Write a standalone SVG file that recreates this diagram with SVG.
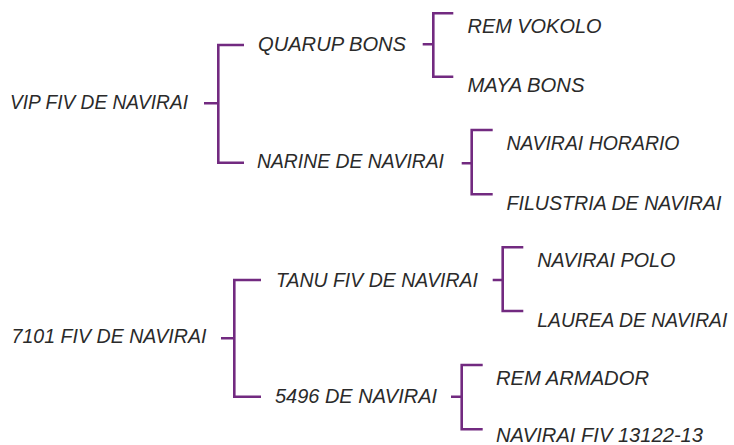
<svg xmlns="http://www.w3.org/2000/svg" width="734" height="445" viewBox="0 0 734 445">
<style>
text{font-family:"Liberation Sans",Arial,sans-serif;font-style:italic;font-size:20px;fill:#2a2a2a;}
.c path{fill:none;stroke:#722a80;stroke-width:2.6;}
</style>
<rect width="734" height="445" fill="#ffffff"/>
<g class="c" id="connectors">
<path d="M204,103.3H218.3M244,45H218.3V162.7H244"/>
<path d="M422.7,44.3H433.3M453.3,13.3H433.3V76.7H453.3"/>
<path d="M461.7,163.3H471.7M492.7,130H471.7V194.3H492.7"/>
<path d="M221,338.3H234.3M261,280H234.3V396.7H261"/>
<path d="M492.7,280H502.7M523.3,247.3H502.7V311H523.3"/>
<path d="M451,396.7H461.7M482.7,365H461.7V429.3H482.7"/>
</g>
<g id="n1"><text x="10" y="109" textLength="178" lengthAdjust="spacingAndGlyphs">VIP FIV DE NAVIRAI</text></g>
<g id="n2"><text x="258" y="51" textLength="148" lengthAdjust="spacingAndGlyphs">QUARUP BONS</text></g>
<g id="n3"><text x="257" y="168" textLength="187" lengthAdjust="spacingAndGlyphs">NARINE DE NAVIRAI</text></g>
<g id="n4"><text x="467.5" y="32.5" textLength="134" lengthAdjust="spacingAndGlyphs">REM VOKOLO</text></g>
<g id="n5"><text x="467.5" y="91.7" textLength="117" lengthAdjust="spacingAndGlyphs">MAYA BONS</text></g>
<g id="n6"><text x="506.5" y="150" textLength="173" lengthAdjust="spacingAndGlyphs">NAVIRAI HORARIO</text></g>
<g id="n7"><text x="506.5" y="210" textLength="215" lengthAdjust="spacingAndGlyphs">FILUSTRIA DE NAVIRAI</text></g>
<g id="n8"><text x="11.5" y="343" textLength="195" lengthAdjust="spacingAndGlyphs">7101 FIV DE NAVIRAI</text></g>
<g id="n9"><text x="276" y="286.7" textLength="202" lengthAdjust="spacingAndGlyphs">TANU FIV DE NAVIRAI</text></g>
<g id="n10"><text x="275" y="402.7" textLength="162" lengthAdjust="spacingAndGlyphs">5496 DE NAVIRAI</text></g>
<g id="n11"><text x="537.3" y="266.7" textLength="138" lengthAdjust="spacingAndGlyphs">NAVIRAI POLO</text></g>
<g id="n12"><text x="537.3" y="326.7" textLength="190" lengthAdjust="spacingAndGlyphs">LAUREA DE NAVIRAI</text></g>
<g id="n13"><text x="496" y="385" textLength="153" lengthAdjust="spacingAndGlyphs">REM ARMADOR</text></g>
<g id="n14"><text x="496" y="442" textLength="207" lengthAdjust="spacingAndGlyphs">NAVIRAI FIV 13122-13</text></g>
</svg>
